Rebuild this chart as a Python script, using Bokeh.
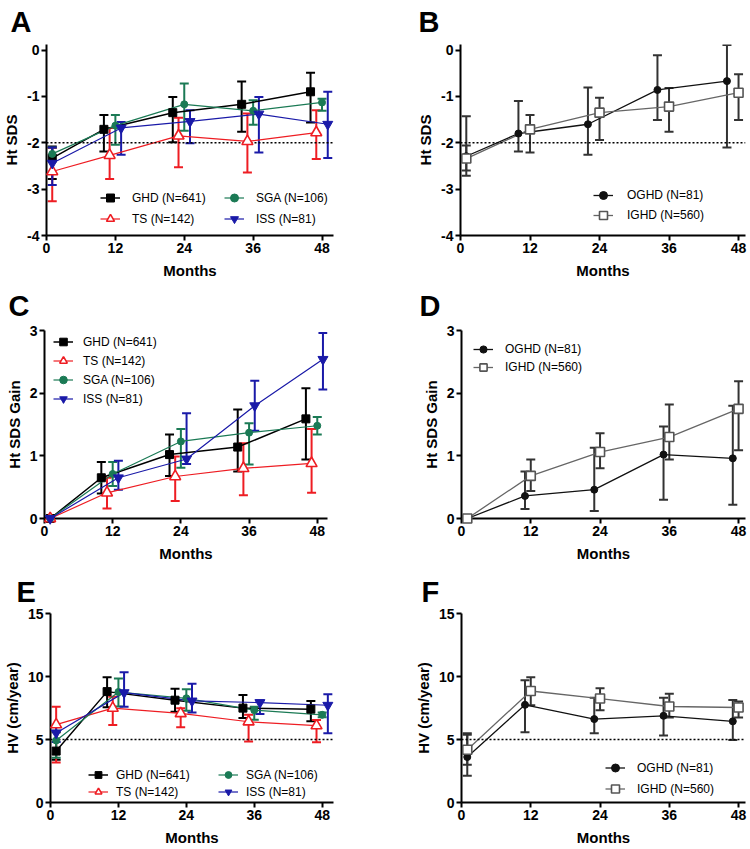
from bokeh.plotting import figure
from bokeh.models import (ColumnDataSource, Whisker, TeeHead, Span, Legend, LegendItem,
                          Range1d, FixedTicker)
from bokeh.layouts import column, row
from bokeh.embed import file_html
from bokeh.resources import INLINE

FONT = "Liberation Sans"
MONTH_TICKS = [0, 12, 24, 36, 48]

# ---------------- x positions (months, offset per group) ----------------
X_GHD = [1, 10, 22, 34, 46]
X_TS = [1, 11, 23, 35, 47]
X_SGA = [1, 12, 24, 36, 48]
X_ISS = [1, 13, 25, 37, 49]
X_OGHD_B = [1, 10, 22, 34, 46]
X_OGHD_DF = [1, 11, 23, 35, 47]
X_IGHD = [1, 12, 24, 36, 48]

# ---------------- Panel A: Ht SDS ----------------
A_GHD = [-2.33, -1.71, -1.35, -1.17, -0.90]
A_GHD_HI = [-2.08, -1.40, -1.01, -0.68, -0.49]
A_GHD_LO = [-2.78, -2.19, -1.99, -1.76, -1.56]
A_TS = [-2.62, -2.27, -1.85, -1.97, -1.78]
A_TS_HI = [-2.11, -1.68, -1.46, -1.37, -1.30]
A_TS_LO = [-3.26, -2.78, -2.53, -2.64, -2.35]
A_SGA = [-2.24, -1.63, -1.17, -1.31, -1.13]
A_SGA_HI = [-2.10, -1.40, -0.72, -1.08, -1.05]
A_SGA_LO = [-2.40, -2.04, -1.74, -1.61, -1.31]
A_ISS = [-2.44, -1.68, -1.54, -1.38, -1.60]
A_ISS_HI = [-2.10, -1.55, -1.30, -1.01, -0.90]
A_ISS_LO = [-2.91, -2.26, -2.01, -2.21, -2.33]

# ---------------- Panel B: Ht SDS, OGHD vs IGHD ----------------
B_OGHD = [-2.29, -1.80, -1.60, -0.86, -0.67]
B_OGHD_HI = [-1.43, -1.10, -0.81, -0.11, 0.11]
B_OGHD_LO = [-2.71, -2.19, -2.26, -1.51, -2.10]
B_IGHD = [-2.34, -1.71, -1.35, -1.22, -0.92]
B_IGHD_HI = [-2.06, -1.40, -1.03, -0.82, -0.52]
B_IGHD_LO = [-2.60, -2.21, -1.94, -1.76, -1.51]

# ---------------- Panel C: Ht SDS Gain ----------------
C_GHD = [0, 0.65, 1.02, 1.14, 1.59]
C_GHD_HI = [0, 0.90, 1.34, 1.74, 2.08]
C_GHD_LO = [0, 0.40, 0.68, 0.75, 0.94]
C_TS = [0, 0.41, 0.67, 0.80, 0.88]
C_TS_HI = [0, 0.65, 0.99, 1.20, 1.43]
C_TS_LO = [0, 0.16, 0.28, 0.37, 0.41]
C_SGA = [0, 0.71, 1.23, 1.37, 1.48]
C_SGA_HI = [0, 0.90, 1.43, 1.52, 1.62]
C_SGA_LO = [0, 0.52, 0.81, 0.86, 1.34]
C_ISS = [0, 0.65, 0.95, 1.80, 2.54]
C_ISS_HI = [0, 0.92, 1.68, 2.20, 2.96]
C_ISS_LO = [0, 0.46, 0.87, 1.40, 2.06]

# ---------------- Panel D: Ht SDS Gain, OGHD vs IGHD ----------------
D_OGHD = [0, 0.36, 0.46, 1.02, 0.96]
D_OGHD_HI = [0, 0.75, 1.13, 1.47, 1.80]
D_OGHD_LO = [0, 0.15, 0.12, 0.30, 0.22]
D_IGHD = [0, 0.68, 1.06, 1.30, 1.75]
D_IGHD_HI = [0, 0.94, 1.36, 1.82, 2.19]
D_IGHD_LO = [0, 0.44, 0.80, 0.94, 1.09]

# ---------------- Panel E: HV ----------------
E_GHD = [4.08, 8.80, 8.12, 7.49, 7.41]
E_GHD_HI = [5.58, 9.95, 9.03, 8.53, 8.06]
E_GHD_LO = [3.40, 7.56, 7.20, 6.70, 6.44]
E_TS = [6.18, 7.49, 7.07, 6.41, 6.10]
E_TS_HI = [7.59, 8.40, 7.49, 6.96, 6.54]
E_TS_LO = [3.17, 6.15, 5.97, 4.84, 4.79]
E_SGA = [4.92, 8.77, 8.27, 7.33, 6.96]
E_SGA_HI = [5.70, 9.84, 8.98, 7.59, 7.15]
E_SGA_LO = [3.56, 7.62, 7.28, 6.57, 6.77]
E_ISS = [5.52, 8.72, 8.06, 7.93, 7.72]
E_ISS_HI = [6.00, 10.34, 9.42, 8.12, 8.59]
E_ISS_LO = [4.80, 7.59, 7.15, 7.02, 5.50]

# ---------------- Panel F: HV, OGHD vs IGHD ----------------
F_OGHD = [3.61, 7.75, 6.62, 6.88, 6.44]
F_OGHD_HI = [5.50, 9.71, 8.32, 8.32, 8.14]
F_OGHD_LO = [2.12, 5.58, 5.50, 5.31, 4.97]
F_IGHD = [4.19, 8.85, 8.25, 7.62, 7.54]
F_IGHD_HI = [5.37, 9.95, 9.06, 8.64, 8.01]
F_IGHD_LO = [3.00, 7.72, 7.33, 6.75, 6.75]

LABEL_GHD = "GHD (N=641)"
LABEL_TS = "TS (N=142)"
LABEL_SGA = "SGA (N=106)"
LABEL_ISS = "ISS (N=81)"
LABEL_OGHD = "OGHD (N=81)"
LABEL_IGHD = "IGHD (N=560)"

COL_GHD = "#000000"
COL_TS = "#ee1d23"
COL_SGA = "#1b7a55"
COL_ISS = "#1a1aa8"
COL_OGHD = "#111111"
COL_IGHD = "#555555"
COL_IGHD_LINE = "#666666"
COL_ERR_DARK = "#333333"


def make_fig(width, height, bl, br, bt, bb, xmax, yr, yticks, ylabel, letter, letter_off,
             letter_standoff):
    p = figure(width=width, height=height, output_backend="svg", toolbar_location=None,
               x_range=Range1d(0, xmax), y_range=Range1d(*yr),
               min_border_left=bl, min_border_right=br,
               min_border_top=bt, min_border_bottom=bb)
    p.title.text = letter
    p.title.text_font = FONT
    p.title.text_font_size = "29px"
    p.title.text_font_style = "bold"
    p.title.text_color = "black"
    p.title.align = "left"
    p.title.offset = letter_off
    p.title.standoff = letter_standoff
    p.title.vertical_align = "top"
    p.xgrid.visible = False
    p.ygrid.visible = False
    p.outline_line_color = None
    p.background_fill_color = "white"
    p.border_fill_color = "white"
    p.xaxis.ticker = FixedTicker(ticks=MONTH_TICKS)
    p.yaxis.ticker = FixedTicker(ticks=yticks)
    p.xaxis.major_label_overrides = {t: str(t) for t in MONTH_TICKS}
    p.yaxis.major_label_overrides = {t: str(t) for t in yticks}
    p.xaxis.axis_label = "Months"
    p.yaxis.axis_label = ylabel
    for ax in (p.xaxis[0], p.yaxis[0]):
        ax.axis_line_width = 2
        ax.axis_line_color = "black"
        ax.major_tick_line_width = 2
        ax.major_tick_line_color = "black"
        ax.major_tick_out = 5
        ax.major_tick_in = 0
        ax.minor_tick_line_color = None
        ax.major_label_text_font = FONT
        ax.major_label_text_font_size = "14px"
        ax.major_label_text_font_style = "bold"
        ax.major_label_text_color = "black"
        ax.axis_label_text_font = FONT
        ax.axis_label_text_font_size = "15px"
        ax.axis_label_text_font_style = "bold"
        ax.axis_label_text_color = "black"
        ax.major_label_standoff = 2
    p.xaxis.axis_label_standoff = 6
    p.yaxis.axis_label_standoff = 4
    return p


def add_series(p, xs, mean, lo, hi, color, marker, size, fill, line_color=None,
               err_color=None, lw=1.3, mlw=1.5):
    src = ColumnDataSource(dict(x=xs, y=mean, lo=lo, hi=hi))
    ec = err_color or color
    w = Whisker(source=src, base="x", lower="lo", upper="hi", dimension="height",
                line_color=ec, line_width=2,
                lower_head=TeeHead(size=9, line_color=ec, line_width=2),
                upper_head=TeeHead(size=9, line_color=ec, line_width=2))
    p.add_layout(w)
    lr = p.line("x", "y", source=src, line_color=line_color or color, line_width=lw)
    sr = p.scatter("x", "y", source=src, marker=marker, size=size, fill_color=fill,
                   line_color=color, line_width=mlw, level="overlay")
    return [lr, sr]


def add_legend(p, items, x, y, row_h, standoff):
    lg = Legend(items=[LegendItem(label=l, renderers=r) for l, r in items],
                location=(x, y), orientation="vertical", padding=0, spacing=0, margin=0,
                glyph_width=20, glyph_height=row_h, label_height=row_h,
                label_standoff=standoff, label_text_font=FONT,
                label_text_font_size="12px", label_text_color="black",
                border_line_color=None, background_fill_alpha=0)
    p.add_layout(lg)


def ref_line(p, v):
    p.add_layout(Span(location=v, dimension="width", line_color="black",
                      line_width=1.5, line_dash="2 2"))


def four_groups(p, d):
    r_ghd = add_series(p, X_GHD, *d["GHD"], COL_GHD, "square", 8, COL_GHD, lw=1.5, mlw=1)
    r_ts = add_series(p, X_TS, *d["TS"], COL_TS, "triangle", 11, "white", lw=1.2, mlw=1.6)
    r_sga = add_series(p, X_SGA, *d["SGA"], COL_SGA, "circle", 7, COL_SGA, lw=1.2, mlw=1)
    r_iss = add_series(p, X_ISS, *d["ISS"], COL_ISS, "inverted_triangle", 10, COL_ISS, lw=1.2, mlw=1)
    return r_ghd, r_ts, r_sga, r_iss


def two_groups(p, xo, o, i):
    r_o = add_series(p, xo, *o, COL_OGHD, "circle", 7, COL_OGHD, line_color=COL_OGHD,
                     err_color=COL_ERR_DARK, lw=1.3, mlw=1)
    r_i = add_series(p, X_IGHD, *i, COL_IGHD, "square", 9, "white", line_color=COL_IGHD_LINE,
                     err_color=COL_ERR_DARK, lw=1.3, mlw=1.6)
    return r_o, r_i


SDS_TICKS = [-4, -3, -2, -1, 0]
GAIN_TICKS = [0, 1, 2, 3]
HV_TICKS = [0, 5, 10, 15]

# ---------- Row 1 ----------
pA = make_fig(375, 283, 44, 42, 43, 48, 50, (-4, 0.12), SDS_TICKS, "Ht SDS", "A", -36, 10)
ref_line(pA, -2)
g, t, s, i = four_groups(pA, {"GHD": (A_GHD, A_GHD_LO, A_GHD_HI), "TS": (A_TS, A_TS_LO, A_TS_HI),
                              "SGA": (A_SGA, A_SGA_LO, A_SGA_HI), "ISS": (A_ISS, A_ISS_LO, A_ISS_HI)})
add_legend(pA, [(LABEL_GHD, g), (LABEL_TS, t)], 54, 6, 21, 12)
add_legend(pA, [(LABEL_SGA, s), (LABEL_ISS, i)], 178, 6, 21, 12)

pB = make_fig(375, 283, 85, 5, 43, 48, 49.2, (-4, 0.12), SDS_TICKS, "Ht SDS", "B", -42, 10)
ref_line(pB, -2)
o, ig = two_groups(pB, X_OGHD_B, (B_OGHD, B_OGHD_LO, B_OGHD_HI), (B_IGHD, B_IGHD_LO, B_IGHD_HI))
add_legend(pB, [(LABEL_OGHD, o), (LABEL_IGHD, ig)], 133, 10, 20, 14)

# ---------- Row 2 ----------
pC = make_fig(375, 283, 44, 48, 47, 48, 49.8, (0, 3), GAIN_TICKS, "Ht SDS Gain", "C", -36, 13)
g, t, s, i = four_groups(pC, {"GHD": (C_GHD, C_GHD_LO, C_GHD_HI), "TS": (C_TS, C_TS_LO, C_TS_HI),
                              "SGA": (C_SGA, C_SGA_LO, C_SGA_HI), "ISS": (C_ISS, C_ISS_LO, C_ISS_HI)})
add_legend(pC, [(LABEL_GHD, g), (LABEL_TS, t), (LABEL_SGA, s), (LABEL_ISS, i)], 9, 110, 19, 10)

pD = make_fig(375, 283, 86, 5, 47, 48, 49.2, (0, 3), GAIN_TICKS, "Ht SDS Gain", "D", -42, 13)
o, ig = two_groups(pD, X_OGHD_DF, (D_OGHD, D_OGHD_LO, D_OGHD_HI), (D_IGHD, D_IGHD_LO, D_IGHD_HI))
add_legend(pD, [(LABEL_OGHD, o), (LABEL_IGHD, ig)], 12, 142, 18, 12)

# ---------- Row 3 ----------
pE = make_fig(375, 282, 44, 42, 47, 45, 50, (0, 15), HV_TICKS, "HV (cm/year)", "E", -34, 7)
ref_line(pE, 5)
g, t, s, i = four_groups(pE, {"GHD": (E_GHD, E_GHD_LO, E_GHD_HI), "TS": (E_TS, E_TS_LO, E_TS_HI),
                              "SGA": (E_SGA, E_SGA_LO, E_SGA_HI), "ISS": (E_ISS, E_ISS_LO, E_ISS_HI)})
add_legend(pE, [(LABEL_GHD, g), (LABEL_TS, t)], 38, 2, 17, 8)
add_legend(pE, [(LABEL_SGA, s), (LABEL_ISS, i)], 168, 2, 17, 8)

pF = make_fig(375, 282, 86, 5, 47, 45, 49.2, (0, 15), HV_TICKS, "HV (cm/year)", "F", -40, 7)
ref_line(pF, 5)
o, ig = two_groups(pF, X_OGHD_DF, (F_OGHD, F_OGHD_LO, F_OGHD_HI), (F_IGHD, F_IGHD_LO, F_IGHD_HI))
add_legend(pF, [(LABEL_OGHD, o), (LABEL_IGHD, ig)], 144, 3, 21, 12)

layout = column(row(pA, pB), row(pC, pD), row(pE, pF))
open("out.html", "w").write(file_html(layout, INLINE))
